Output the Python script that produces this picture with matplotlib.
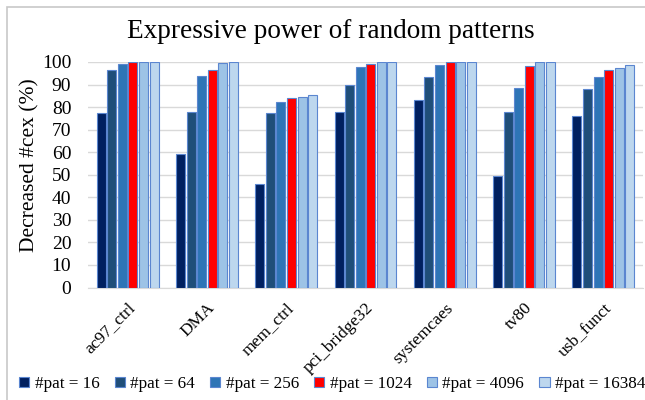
import matplotlib.pyplot as plt
import numpy as np
from matplotlib.patches import Rectangle

# Designs on the x axis and the decreased #cex (%) per pattern count
DESIGNS = ["ac97_ctrl", "DMA", "mem_ctrl", "pci_bridge32", "systemcaes", "tv80", "usb_funct"]
SERIES = ["#pat = 16", "#pat = 64", "#pat = 256", "#pat = 1024", "#pat = 4096", "#pat = 16384"]
PAT_16 = [77.5, 59.0, 45.7, 77.8, 83.1, 49.3, 75.9]
PAT_64 = [96.4, 78.0, 77.4, 89.9, 93.2, 77.8, 88.0]
PAT_256 = [99.3, 93.8, 82.1, 97.6, 98.8, 88.3, 93.2]
PAT_1024 = [100, 96.3, 83.9, 99.1, 100, 98.1, 96.4]
PAT_4096 = [100, 99.6, 84.5, 99.9, 100, 99.9, 97.5]
PAT_16384 = [100, 100, 85.4, 99.9, 100, 100, 98.7]

COLORS = ["#002060", "#1F4E79", "#2E75B6", "#FF0000", "#9DC3E6", "#BDD7EE"]

plt.rcParams['font.family'] = ['Liberation Serif', 'DejaVu Serif']

fig = plt.figure(figsize=(6.45, 4.0), dpi=100)
ax = fig.add_axes([88 / 645, 1 - 287.5 / 400, 555 / 645, 225.5 / 400])

# Chart frame (cut off on the right and bottom, like the screenshot)
fig.patches.append(Rectangle((7 / 645, -0.05), 1.1, 1.05 - 7 / 400, transform=fig.transFigure,
                             facecolor="none", edgecolor="#C8C8C8", linewidth=1.2))

x = np.arange(len(DESIGNS))
all_values = [PAT_16, PAT_64, PAT_256, PAT_1024, PAT_4096, PAT_16384]
slot = 0.8 / 6
for i, values in enumerate(all_values):
    ax.bar(x - 0.4 + slot * (i + 0.5), values, width=slot * 0.86, color=COLORS[i],
           edgecolor="#5B86D0", linewidth=0.8, label=SERIES[i], zorder=3)

ax.set_xlim(-0.5, len(DESIGNS) - 0.5)
ax.set_ylim(0, 100)
ax.set_yticks(range(0, 101, 10))
ax.tick_params(axis="y", length=0, labelsize=14, pad=12)
ax.tick_params(axis="x", length=0, labelsize=12.5, pad=9)
ax.set_xticks(x)
ax.set_xticklabels(DESIGNS, rotation=45, ha="right", va="top", rotation_mode="anchor")
ax.grid(axis="y", color="#D9D9D9", linewidth=1.0, zorder=0)
for side in ["top", "right", "left"]:
    ax.spines[side].set_visible(False)
ax.spines["bottom"].set_color("#D9D9D9")
ax.set_ylabel("Decreased #cex (%)", fontsize=15.5)
ax.yaxis.set_label_coords(-0.088, 0.543)

fig.text(0.513, 0.922, "Expressive power of random patterns", ha="center", va="center",
         fontsize=19.6)

fig.legend(loc="center", bbox_to_anchor=(0.515, 0.04), ncol=6, frameon=False, fontsize=12.3,
           handlelength=0.6, handleheight=0.6, handletextpad=0.3, columnspacing=0.9)

fig.savefig("out.png", dpi=100)
